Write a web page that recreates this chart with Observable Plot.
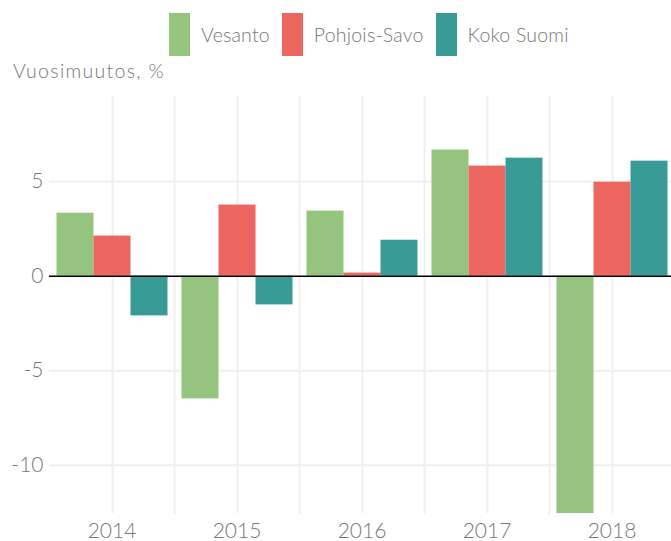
<!DOCTYPE html>
<html><head><meta charset="utf-8">
<script src="https://cdn.jsdelivr.net/npm/d3@7"></script>
<script src="https://cdn.jsdelivr.net/npm/@observablehq/plot@0.6"></script>
<style>
html,body{margin:0;padding:0;background:#fff;overflow:hidden;}
#wrap{position:relative;width:671px;height:541px;overflow:hidden;font-family:Lato,sans-serif;font-weight:300;color:#777;}
#legend{position:absolute;left:169px;top:13px;display:flex;height:43px;align-items:center;}
.item{display:flex;align-items:center;margin-right:12px;}
.sw{width:21px;height:43px;margin-right:11px;}
.lab{font-size:19.5px;line-height:20px;letter-spacing:0.2px;}
#ytitle{position:absolute;left:13px;top:61px;font-size:19.5px;line-height:19px;letter-spacing:1.3px;}
#chart{position:absolute;left:0;top:88px;}
#chart svg{overflow:hidden;}
</style></head>
<body>
<div id="wrap">
  <div id="legend"></div>
  <div id="ytitle"></div>
  <div id="chart"></div>
</div>
<script>
const years = ["2014", "2015", "2016", "2017", "2018"];
const series = ["Vesanto", "Pohjois-Savo", "Koko Suomi"];
const colors = ["#94c47e", "#ec665f", "#399b96"];
const vesanto = [3.33, -6.49, 3.44, 6.67, -14.0];
const pohjoisSavo = [2.12, 3.76, 0.16, 5.82, 4.97];
const kokoSuomi = [-2.1, -1.52, 1.9, 6.24, 6.08];
const yTicks = [-10, -5, 0, 5];
const yTitle = "Vuosimuutos, %";

const seriesValues = [vesanto, pohjoisSavo, kokoSuomi];
const data = [];
years.forEach((yr, i) => series.forEach((s, j) => data.push({year: yr, series: s, value: seriesValues[j][i]})));

// legend
const legend = document.getElementById("legend");
series.forEach((s, j) => {
  const it = document.createElement("div"); it.className = "item";
  const sw = document.createElement("div"); sw.className = "sw"; sw.style.background = colors[j];
  const lb = document.createElement("div"); lb.className = "lab"; lb.textContent = s;
  it.appendChild(sw); it.appendChild(lb); legend.appendChild(it);
});
document.getElementById("ytitle").textContent = yTitle;

const gridColor = "#efefef";
const textColor = "#777";

const chart = Plot.plot({
  width: 671,
  height: 453,
  marginTop: 8,
  marginBottom: 28,
  marginLeft: 48.5,
  marginRight: 0,
  style: {fontFamily: "Lato, sans-serif", fontWeight: 300, background: "white"},
  fx: {domain: years, range: [48.5, 673.5], padding: 0},
  x: {domain: series, paddingInner: 0, paddingOuter: 0.16, axis: null},
  y: {domain: [-12.55, 9.5]},
  color: {domain: series, range: colors},
  marks: [
    Plot.gridY({ticks: yTicks, stroke: gridColor, strokeOpacity: 1, strokeWidth: 2}),
    Plot.ruleX([series[1]], {x: d => d, stroke: gridColor, strokeWidth: 2}),
    Plot.frame({anchor: "right", stroke: gridColor, strokeWidth: 2}),
    Plot.barY(data, {fx: "year", x: "series", y: "value", fill: "series", clip: true}),
    Plot.ruleY([0], {stroke: "#000", strokeWidth: 1.5}),
    Plot.axisY({ticks: yTicks, tickFormat: d => String(d), tickSize: 0, tickPadding: 6, fontSize: 21, fill: textColor, label: null}),
    Plot.axisFx({anchor: "bottom", tickSize: 0, tickPadding: 10, fontSize: 21, fill: textColor, label: null})
  ]
});
document.getElementById("chart").appendChild(chart);
</script>
</body></html>
